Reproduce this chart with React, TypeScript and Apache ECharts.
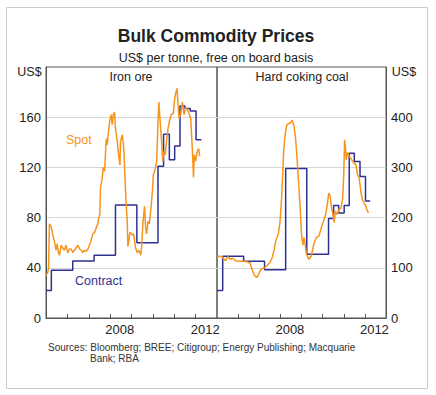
import React, { useEffect, useRef } from "react";
import * as echarts from "echarts";

const FONT = "'Liberation Sans', Arial, Helvetica, sans-serif";
const ORANGE = "#F7941D";
const NAVY = "#2E3192";

const tickYears = [2006, 2007, 2008, 2009, 2010, 2011, 2012];
const labelYears = [2008.45, 2012.45];

const ironSpot: [number, number][] = [
  [2005.0, 34], [2005.08, 36], [2005.12, 40], [2005.16, 75], [2005.24, 73], [2005.31, 67], [2005.39, 61],
  [2005.47, 54], [2005.52, 59], [2005.58, 52], [2005.63, 50], [2005.71, 58], [2005.78, 56], [2005.86, 54],
  [2005.94, 58], [2006.02, 52], [2006.1, 55], [2006.18, 55], [2006.26, 52], [2006.33, 54], [2006.41, 56],
  [2006.49, 58], [2006.57, 55], [2006.65, 54], [2006.72, 52], [2006.8, 54], [2006.88, 53], [2006.96, 55],
  [2007.03, 58], [2007.11, 62], [2007.19, 67], [2007.27, 68], [2007.35, 72], [2007.42, 75], [2007.47, 80],
  [2007.52, 83], [2007.55, 104], [2007.62, 110], [2007.68, 120], [2007.74, 117], [2007.82, 143], [2007.86, 138],
  [2007.94, 151], [2007.99, 158], [2008.05, 162], [2008.1, 154], [2008.15, 162], [2008.21, 164], [2008.25, 151],
  [2008.33, 141], [2008.41, 128], [2008.46, 122], [2008.49, 141], [2008.57, 146], [2008.64, 135], [2008.69, 114],
  [2008.75, 91], [2008.8, 77], [2008.83, 57], [2008.88, 62], [2008.92, 68], [2008.96, 68], [2009.04, 66],
  [2009.1, 67], [2009.14, 62], [2009.19, 56], [2009.27, 52], [2009.35, 54], [2009.43, 50], [2009.47, 56],
  [2009.53, 75], [2009.61, 89], [2009.66, 72], [2009.71, 67], [2009.77, 77], [2009.83, 75], [2009.89, 84],
  [2009.94, 93], [2009.99, 104], [2010.02, 114], [2010.08, 117], [2010.13, 120], [2010.18, 125], [2010.24, 157],
  [2010.28, 172], [2010.33, 159], [2010.4, 143], [2010.46, 125], [2010.52, 133], [2010.58, 130], [2010.64, 141],
  [2010.71, 151], [2010.79, 158], [2010.86, 162], [2010.96, 163], [2011.02, 175], [2011.08, 180], [2011.13, 183],
  [2011.17, 172], [2011.22, 159], [2011.3, 162], [2011.38, 172], [2011.46, 162], [2011.54, 168], [2011.62, 166],
  [2011.69, 163], [2011.77, 159], [2011.85, 133], [2011.9, 112], [2011.94, 130], [2012.0, 125], [2012.08, 133],
  [2012.14, 135], [2012.19, 129],
];

const ironContract: [number, number][] = [
  [2005.0, 22], [2005.25, 38], [2006.25, 45.5], [2007.25, 50], [2008.25, 90], [2009.25, 60], [2010.24, 121],
  [2010.5, 146.5], [2010.77, 126], [2011.02, 137], [2011.27, 169], [2011.5, 167], [2011.75, 165], [2012.02, 142],
  [2012.27, 142],
];

const coalSpot: [number, number][] = [
  [2005.0, 122], [2005.1, 123], [2005.25, 122], [2005.33, 117], [2005.4, 114], [2005.47, 119], [2005.53, 122],
  [2005.64, 117], [2005.75, 119], [2005.87, 114], [2006.03, 113], [2006.2, 113], [2006.42, 112], [2006.57, 109],
  [2006.65, 98], [2006.73, 89], [2006.81, 83], [2006.89, 81], [2006.96, 86], [2007.04, 94], [2007.12, 98],
  [2007.25, 100], [2007.36, 104], [2007.51, 111], [2007.62, 121], [2007.71, 137], [2007.79, 155], [2007.9, 167],
  [2007.98, 190], [2008.06, 240], [2008.11, 290], [2008.16, 335], [2008.22, 364], [2008.3, 384], [2008.37, 387],
  [2008.48, 389], [2008.56, 394], [2008.64, 384], [2008.72, 358], [2008.79, 318], [2008.87, 266], [2008.95, 210],
  [2009.0, 167], [2009.07, 145], [2009.12, 160], [2009.17, 148], [2009.23, 128], [2009.31, 120], [2009.36, 117],
  [2009.47, 124], [2009.58, 147], [2009.7, 160], [2009.82, 163], [2009.94, 180], [2010.04, 193], [2010.14, 206],
  [2010.22, 226], [2010.29, 249], [2010.36, 242], [2010.42, 219], [2010.48, 209], [2010.55, 190], [2010.6, 213],
  [2010.69, 206], [2010.76, 216], [2010.87, 219], [2010.95, 239], [2011.0, 285], [2011.04, 355], [2011.08, 340],
  [2011.12, 315], [2011.18, 330], [2011.26, 322], [2011.34, 318], [2011.42, 312], [2011.5, 308], [2011.58, 305],
  [2011.65, 285], [2011.73, 279], [2011.81, 252], [2011.88, 236], [2011.96, 229], [2012.04, 223], [2012.12, 213],
  [2012.17, 209],
];

const coalContract: [number, number][] = [
  [2005.0, 55], [2005.27, 123], [2006.26, 113], [2007.25, 96], [2008.25, 298], [2009.25, 127], [2010.28, 198],
  [2010.52, 224], [2010.76, 209], [2011.02, 224], [2011.26, 328], [2011.5, 312], [2011.77, 282], [2012.03, 233],
  [2012.25, 233],
];

const xAxisFor = (gridIndex: number) => ({
  type: "value",
  gridIndex,
  min: 2005,
  max: 2013,
  axisLine: { show: true, lineStyle: { color: "#555", width: 1 } },
  axisTick: { show: true, inside: true, length: 4, customValues: tickYears, lineStyle: { color: "#555" } },
  axisLabel: {
    show: true,
    customValues: labelYears,
    formatter: (v: number) => String(Math.floor(v)),
    margin: 5,
    fontSize: 13,
    color: "#222",
    fontFamily: FONT,
  },
  splitLine: { show: false },
});

const yAxisFor = (gridIndex: number, max: number, interval: number, position: string) => ({
  type: "value",
  gridIndex,
  min: 0,
  max,
  interval,
  position,
  axisLine: { show: true, lineStyle: { color: "#555", width: 1 } },
  axisTick: { show: false },
  axisLabel: { showMaxLabel: false, margin: 5, fontSize: 13, color: "#222", fontFamily: FONT },
  splitLine: { show: true, showMinLine: false, showMaxLine: false, lineStyle: { color: "#d6d6d6", width: 1 } },
});

const text = (x: number, y: number, t: string, extra: any = {}) => ({
  type: "text",
  x,
  y,
  style: {
    text: t,
    fontFamily: FONT,
    fontSize: 12.5,
    fill: "#222",
    textAlign: "center",
    textVerticalAlign: "middle",
    ...extra,
  },
});

export default function App() {
  const ref = useRef<HTMLDivElement>(null);
  useEffect(() => {
    const chart = echarts.init(ref.current!, null, { renderer: "svg" });
    chart.setOption({
      animation: false,
      backgroundColor: "#fff",
      grid: [
        { left: 46, top: 67, width: 171, height: 251, show: true, borderColor: "#555", borderWidth: 1, backgroundColor: "transparent" },
        { left: 217, top: 67, width: 169, height: 251, show: true, borderColor: "#555", borderWidth: 1, backgroundColor: "transparent" },
      ],
      xAxis: [xAxisFor(0), xAxisFor(1)],
      yAxis: [yAxisFor(0, 200, 40, "left"), yAxisFor(1, 500, 100, "right")],
      series: [
        { type: "line", xAxisIndex: 0, yAxisIndex: 0, data: ironContract, step: "end", symbol: "none", lineStyle: { color: NAVY, width: 1.5 } },
        { type: "line", xAxisIndex: 0, yAxisIndex: 0, data: ironSpot, symbol: "none", lineStyle: { color: ORANGE, width: 1.5 } },
        { type: "line", xAxisIndex: 1, yAxisIndex: 1, data: coalContract, step: "end", symbol: "none", lineStyle: { color: NAVY, width: 1.5 } },
        { type: "line", xAxisIndex: 1, yAxisIndex: 1, data: coalSpot, symbol: "none", lineStyle: { color: ORANGE, width: 1.5 } },
      ],
      graphic: [
        { type: "rect", shape: { x: 6.5, y: 7.5, width: 421, height: 381 }, style: { fill: "none", stroke: "#cccccc", lineWidth: 1 }, silent: true },
        text(216, 36, "Bulk Commodity Prices", { fontSize: 17.5, fontWeight: "bold" }),
        text(216, 58, "US$ per tonne, free on board basis", { fontSize: 12.5 }),
        text(29.5, 72, "US$"),
        text(404, 72, "US$"),
        text(131, 77, "Iron ore"),
        text(302, 77, "Hard coking coal"),
        text(66, 140, "Spot", { textAlign: "left", fill: ORANGE }),
        text(75, 281, "Contract", { textAlign: "left", fill: NAVY }),
        text(48, 347.5, "Sources: Bloomberg; BREE; Citigroup; Energy Publishing; Macquarie", { textAlign: "left", fontSize: 10, fill: "#333" }),
        text(90, 358.5, "Bank; RBA", { textAlign: "left", fontSize: 10, fill: "#333" }),
      ],
    });
    return () => chart.dispose();
  }, []);
  return (
    <div
      ref={ref}
      style={{ position: "absolute", left: 0, top: 0, width: 436, height: 395, background: "#fff" }}
    />
  );
}
